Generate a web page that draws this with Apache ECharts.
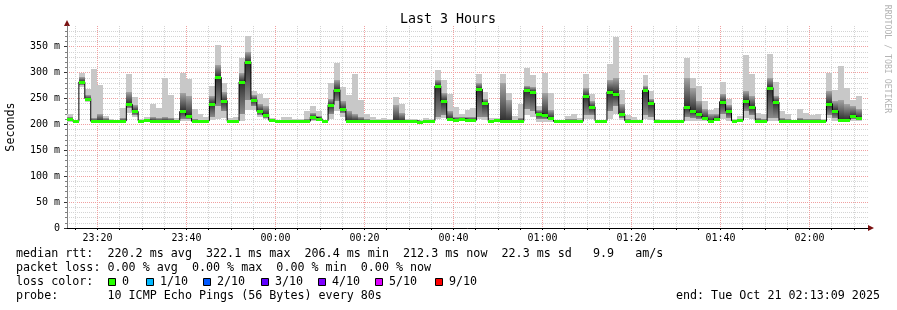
<!DOCTYPE html>
<html><head><meta charset="utf-8">
<script src="https://cdn.jsdelivr.net/npm/echarts@6/dist/echarts.min.js"></script>
<style>html,body{margin:0;padding:0;background:#fff}#c{width:897px;height:310px}</style>
</head><body><div id="c"></div><script>
// ---------------- data ----------------
const chartTitle = 'Last 3 Hours';
const startTime = -2811;  // seconds relative to 00:00 -> 23:13:09
const endTime = 7989;     // 02:13:09
const stepSec = 80;

// median rtt per 80 s step (ms)
const medianRtt = [210,206,282,250,206,207,207,206,206,207,239,225,207,208,207,207,207,207,207,225,
  217,206,206,207,240,291,246,206,207,282,321,248,225,218,208,207,207,207,207,207,
  206,214,211,207,238,267,230,207,207,207,207,207,207,207,207,207,207,207,207,205,
  207,207,274,245,211,208,211,209,208,268,241,206,208,207,207,206,206,266,262,221,
  218,212,206,207,207,207,206,255,234,207,207,263,259,220,207,207,207,266,241,207,
  206,206,206,206,234,225,220,213,207,211,244,226,207,208,246,234,207,206,271,243,
  207,207,206,207,207,206,207,206,240,226,208,209,216,212];
// smoke: minimum ping, lower inner band, upper inner band, maximum ping (ms)
const pingMin = [205,204,272,243,204,205,205,205,205,205,222,215,205,206,205,205,205,205,205,207,
  207,204,204,205,208,210,212,205,205,207,228,228,215,210,206,205,205,205,205,205,
  204,207,206,205,210,225,215,205,205,205,205,205,205,205,205,205,205,205,205,204,
  205,205,210,212,206,206,207,206,205,210,208,204,205,205,205,204,204,218,215,205,
  205,205,204,205,205,205,204,210,210,205,205,210,220,208,205,205,205,210,208,205,
  204,204,204,204,207,207,207,206,205,206,210,207,205,206,212,210,205,204,207,207,
  205,205,204,205,205,204,205,204,212,207,206,206,207,206];
const pingLowQ = [207,205,276,246,205,206,206,206,206,206,232,219,206,207,206,206,206,206,206,210,
  210,205,205,206,215,235,225,206,206,220,247,236,218,213,207,206,206,206,206,206,
  205,208,208,206,220,245,222,206,206,206,206,206,206,206,206,206,206,206,206,205,
  206,206,215,218,208,207,209,208,206,214,215,205,206,206,206,205,205,230,225,210,
  210,208,205,206,206,206,205,218,218,206,206,225,235,212,206,206,206,218,215,206,
  205,205,205,205,215,212,210,208,206,207,220,212,206,207,225,218,206,205,212,212,
  206,206,205,206,206,205,206,205,218,212,207,207,210,208];
const pingHighQ = [214,207,292,256,212,220,212,208,207,212,262,238,209,210,214,212,215,212,209,260,
  255,210,209,209,255,315,262,208,209,300,340,256,240,235,209,208,209,209,208,208,
  210,222,216,207,250,285,245,225,220,215,210,209,208,208,208,238,222,208,208,206,
  209,208,285,260,225,215,215,215,214,280,250,208,209,279,248,209,212,275,272,228,
  260,228,207,207,210,210,208,270,245,207,207,285,290,240,210,209,207,275,250,209,
  207,206,207,207,290,270,245,230,220,220,258,238,208,210,265,255,212,210,290,255,
  212,210,207,212,210,210,210,208,265,245,248,240,235,230];
const pingMax = [221,208,300,268,307,276,217,211,208,232,298,253,211,214,240,232,289,256,213,300,
  288,230,221,214,275,353,280,212,214,328,371,264,258,251,212,209,214,214,210,211,
  225,236,226,208,280,318,272,257,298,248,221,214,211,212,211,252,240,211,210,208,
  213,210,305,286,259,234,221,228,231,298,262,212,212,298,260,217,240,309,295,235,
  299,260,208,208,216,220,212,298,259,208,208,317,368,266,218,214,208,295,264,211,
  208,207,208,208,328,289,274,245,227,232,281,249,211,216,334,298,222,220,335,281,
  225,220,208,230,222,218,221,211,299,267,313,270,247,255];

// axis ticks
const yMajorTicks = [0,50,100,150,200,250,300,350];
const yMinorTicks = [10,20,30,40,60,70,80,90,110,120,130,140,160,170,180,190,210,220,230,240,
  260,270,280,290,310,320,330,340,360,370,380];
const yMax = 390;
const xMajorTicks = [-2400,-1200,0,1200,2400,3600,4800,6000,7200];
const xMajorLabels = ['23:20','23:40','00:00','00:20','00:40','01:00','01:20','01:40','02:00'];
const xMinorTicks = [-2700,-2100,-1800,-1500,-900,-600,-300,300,600,900,1500,1800,2100,2700,3000,3300,
  3900,4200,4500,5100,5400,5700,6300,6600,6900,7500,7800];

// legend texts
const statRtt = 'median rtt:  220.2 ms avg  322.1 ms max  206.4 ms min  212.3 ms now  22.3 ms sd   9.9   am/s';
const statLoss = 'packet loss: 0.00 % avg  0.00 % max  0.00 % min  0.00 % now';
const lossTitle = 'loss color:';
const lossLabels = ['0','1/10','2/10','3/10','4/10','5/10','9/10'];
const lossColors = ['#26ff00','#00b8ff','#0059ff','#5e00ff','#7e00ff','#dd00ff','#ff0000'];
const probeText = 'probe:       10 ICMP Echo Pings (56 Bytes) every 80s';
const endText = 'end: Tue Oct 21 02:13:09 2025';
const yTitle = 'Seconds';
const watermark = 'RRDTOOL / TOBI OETIKER';

// ---------------- layout ----------------
const FONT = '"DejaVu Sans Mono", monospace';
const GRID = {left: 67, top: 26, width: 801, height: 202};
const lossBoxX = [108,146,203,261,318,375,435];

const steps = medianRtt.map((m, k) => [startTime + k * stepSec, startTime + (k + 1) * stepSec,
  pingMin[k], pingLowQ[k], m, pingHighQ[k], pingMax[k]]);
const lineData = medianRtt.map((m, k) => [startTime + k * stepSec, m]);
lineData.push([startTime + medianRtt.length * stepSec, medianRtt[medianRtt.length - 1]]);

function renderSmoke(params, api) {
  const x0 = Math.round(api.coord([api.value(0), 0])[0]);
  const x1 = Math.round(api.coord([api.value(1), 0])[0]);
  const y = v => Math.round(api.coord([api.value(0), v])[1]);
  const yLo = y(api.value(2)), yQ1 = y(api.value(3)), yMed = y(api.value(4)),
    yQ3 = y(api.value(5)), yHi = y(api.value(6));
  const h = Math.max(1, yQ1 - yQ3);
  const off = Math.min(1, Math.max(0, (yMed - yQ3) / h));
  return {type: 'group', children: [
    {type: 'rect', shape: {x: x0, y: yHi, width: x1 - x0, height: Math.max(1, yLo - yHi)}, style: {fill: '#c8c8c8'}},
    {type: 'rect', shape: {x: x0, y: yQ3, width: x1 - x0, height: h},
      style: {fill: {type: 'linear', x: 0, y: 0, x2: 0, y2: 1, colorStops: [
        {offset: 0, color: '#a4a4a4'}, {offset: off, color: '#2e2e2e'}, {offset: 1, color: '#8a8a8a'}]}}}
  ]};
}
function renderMedian(params, api) {
  const x0 = Math.round(api.coord([api.value(0), 0])[0]);
  const x1 = Math.round(api.coord([api.value(1), 0])[0]);
  const ym = Math.round(api.coord([api.value(0), api.value(4)])[1]);
  return {type: 'rect', shape: {x: x0, y: ym - 1, width: x1 - x0, height: 3}, style: {fill: lossColors[0]}};
}

const txt = (x, y, text, extra) => Object.assign({type: 'text', x, y, silent: true,
  style: Object.assign({text, font: '11.7px ' + FONT, fill: '#000', verticalAlign: 'middle'}, extra || {})});

const graphic = [
  txt(448, 19.5, chartTitle, {font: '13.3px ' + FONT, align: 'center'}),
  {type: 'text', x: 11, y: 127, rotation: Math.PI / 2, silent: true,
    style: {text: yTitle, font: '11.7px ' + FONT, fill: '#000', align: 'center', verticalAlign: 'middle'}},
  {type: 'text', x: 887, y: 59, rotation: -Math.PI / 2, silent: true,
    style: {text: watermark, font: '8.2px ' + FONT, fill: '#b4b4b4', align: 'center', verticalAlign: 'middle'}},
  {type: 'polygon', shape: {points: [[64, 26], [70, 26], [67, 20]]}, style: {fill: '#7a1010'}, silent: true},
  {type: 'polygon', shape: {points: [[868, 225], [868, 231], [874, 228]]}, style: {fill: '#7a1010'}, silent: true},
  txt(16, 254.3, statRtt),
  txt(16, 268.3, statLoss),
  txt(16, 282.3, lossTitle),
  txt(16, 296.3, probeText),
  txt(880, 296.3, endText, {align: 'right'})
];
lossLabels.forEach((l, i) => {
  graphic.push({type: 'rect', shape: {x: lossBoxX[i] + 0.5, y: 278.5, width: 7, height: 7},
    style: {fill: lossColors[i], stroke: '#000', lineWidth: 1}, silent: true});
  graphic.push(txt(lossBoxX[i] + 14, 282.3, l));
});

const axisFont = {fontFamily: FONT, fontSize: 10, color: '#000'};
const option = {
  animation: false,
  backgroundColor: '#fff',
  grid: GRID,
  xAxis: [
    {type: 'value', min: startTime, max: endTime, position: 'bottom',
      axisLine: {show: true, onZero: false, lineStyle: {color: '#000', width: 1}},
      axisTick: {show: true, customValues: xMajorTicks, length: 2, lineStyle: {color: '#000'}},
      axisLabel: Object.assign({show: true, customValues: xMajorTicks, margin: 5,
        formatter: v => xMajorLabels[xMajorTicks.indexOf(v)] || ''}, axisFont),
      splitLine: {show: true, lineStyle: {color: '#f0a0a0', type: [1, 1], width: 1}}},
    {type: 'value', min: startTime, max: endTime, position: 'bottom',
      axisLine: {show: false, onZero: false},
      axisTick: {show: true, customValues: xMinorTicks, length: 2, lineStyle: {color: '#000'}},
      axisLabel: {show: false},
      splitLine: {show: true, lineStyle: {color: '#d4d4d4', type: [1, 1], width: 1}}}
  ],
  yAxis: [
    {type: 'value', min: 0, max: yMax, position: 'left',
      axisLine: {show: true, onZero: false, lineStyle: {color: '#808080', width: 1}},
      axisTick: {show: true, customValues: yMajorTicks, length: 3, lineStyle: {color: '#333'}},
      axisLabel: Object.assign({show: true, customValues: yMajorTicks, margin: 7,
        formatter: v => v === 0 ? '0' : v + ' m'}, axisFont),
      splitLine: {show: true, lineStyle: {color: '#f0a0a0', type: [1, 1], width: 1}}},
    {type: 'value', min: 0, max: yMax, position: 'left',
      axisLine: {show: false, onZero: false},
      axisTick: {show: true, customValues: yMinorTicks, length: 2, lineStyle: {color: '#808080'}},
      axisLabel: {show: false},
      splitLine: {show: true, lineStyle: {color: '#d4d4d4', type: [1, 1], width: 1}}}
  ],
  series: [
    {type: 'custom', name: 'smoke', xAxisIndex: 0, yAxisIndex: 0, data: steps, renderItem: renderSmoke,
      encode: {x: [0, 1], y: [2, 6]}, clip: true, z: 2, silent: true},
    {type: 'line', name: 'median', xAxisIndex: 0, yAxisIndex: 0, data: lineData, step: 'end',
      showSymbol: false, symbol: 'none', lineStyle: {color: '#000', width: 1}, z: 3, silent: true},
    {type: 'custom', name: 'median loss', xAxisIndex: 0, yAxisIndex: 0, data: steps, renderItem: renderMedian,
      encode: {x: [0, 1], y: 4}, clip: true, z: 4, silent: true}
  ],
  graphic: graphic
};
const chart = echarts.init(document.getElementById('c'), null, {renderer: 'canvas'});
chart.setOption(option);
</script></body></html>
